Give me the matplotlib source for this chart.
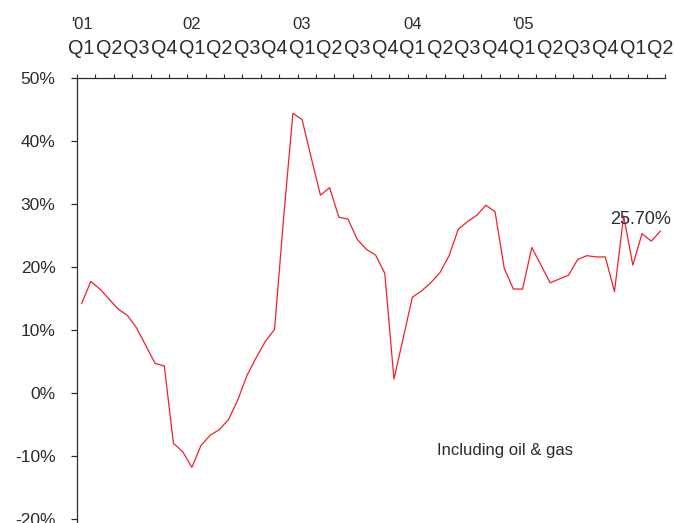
import matplotlib
matplotlib.use("Agg")
import matplotlib.pyplot as plt
import matplotlib.transforms as mtransforms
import numpy as np

plt.rcParams['font.family'] = ['Liberation Sans', 'DejaVu Sans']

# Monthly year-on-year growth, Jan 2001 .. Apr 2006 (%)
growth = [14.2, 17.7, 16.5, 14.9, 13.3, 12.3, 10.3, 7.5, 4.7, 4.3,
          -8.0, -9.3, -11.8, -8.3, -6.7, -5.8, -4.2, -1.1, 2.8, 5.6,
          8.2, 10.1, 28.0, 44.4, 43.4, 37.3, 31.4, 32.6, 27.9, 27.6,
          24.4, 22.8, 21.9, 19.0, 2.2, 8.7, 15.2, 16.2, 17.5, 19.1,
          21.8, 26.0, 27.2, 28.2, 29.8, 28.8, 19.8, 16.5, 16.5, 23.1,
          20.3, 17.5, 18.1, 18.7, 21.2, 21.8, 21.6, 21.6, 16.1, 28.1,
          20.3, 25.3, 24.1, 25.7]
quarter_labels = ['Q1', 'Q2', 'Q3', 'Q4'] * 5 + ['Q1', 'Q2']
year_labels = ["'01", '02', '03', '04', "'05"]
y_ticks = [-20, -10, 0, 10, 20, 30, 40, 50]
last_label = '25.70%'
note = 'Including oil & gas'

W, H = 674, 523
fig = plt.figure(figsize=(W / 100, H / 100), dpi=100)
ax = fig.add_axes([77 / W, 0, (665 - 77) / W, (523 - 78) / H])

n = len(growth)
x = np.arange(n) + 0.5
ax.plot(x, growth, color='#f0212b', lw=0.9)

ax.set_xlim(0, n)
ax.set_ylim(-20.63, 50)

ink = '#2b2b2b'
for s in ['right', 'bottom']:
    ax.spines[s].set_visible(False)
for s in ['left', 'top']:
    ax.spines[s].set_color(ink)
    ax.spines[s].set_linewidth(0.9)

ax.set_yticks(y_ticks)
ax.set_yticklabels([f'{v}%' for v in y_ticks])
ax.tick_params(axis='y', direction='out', length=4.5, width=0.9, color=ink,
               pad=11, labelsize=12.5, labelcolor=ink)

ax.xaxis.set_ticks_position('top')
ax.set_xticks(np.arange(0, n + 1, 2))
ax.set_xticklabels([])
ax.tick_params(axis='x', direction='out', length=3, width=0.8, color=ink)

# Quarter & year labels
trans = mtransforms.blended_transform_factory(ax.transData, ax.transAxes)
for k, q in enumerate(quarter_labels):
    xi = 3 * k + 0.5
    ax.annotate(q, xy=(xi, 1), xycoords=trans, xytext=(0, 21.6),
                textcoords='offset points', ha='center', va='center',
                fontsize=14.3, color=ink, annotation_clip=False)
for k, yl in enumerate(year_labels):
    xi = 12 * k + 0.5
    ax.annotate(yl, xy=(xi, 1), xycoords=trans, xytext=(0, 38.5),
                textcoords='offset points', ha='center', va='center',
                fontsize=12, color=ink, annotation_clip=False)

ax.text(58.0, 27.5, last_label, ha='left', va='center', fontsize=13,
        color=ink)
ax.text(39.2, -9.2, note, ha='left', va='center', fontsize=12,
        color=ink)

fig.savefig('out.png', dpi=100)
